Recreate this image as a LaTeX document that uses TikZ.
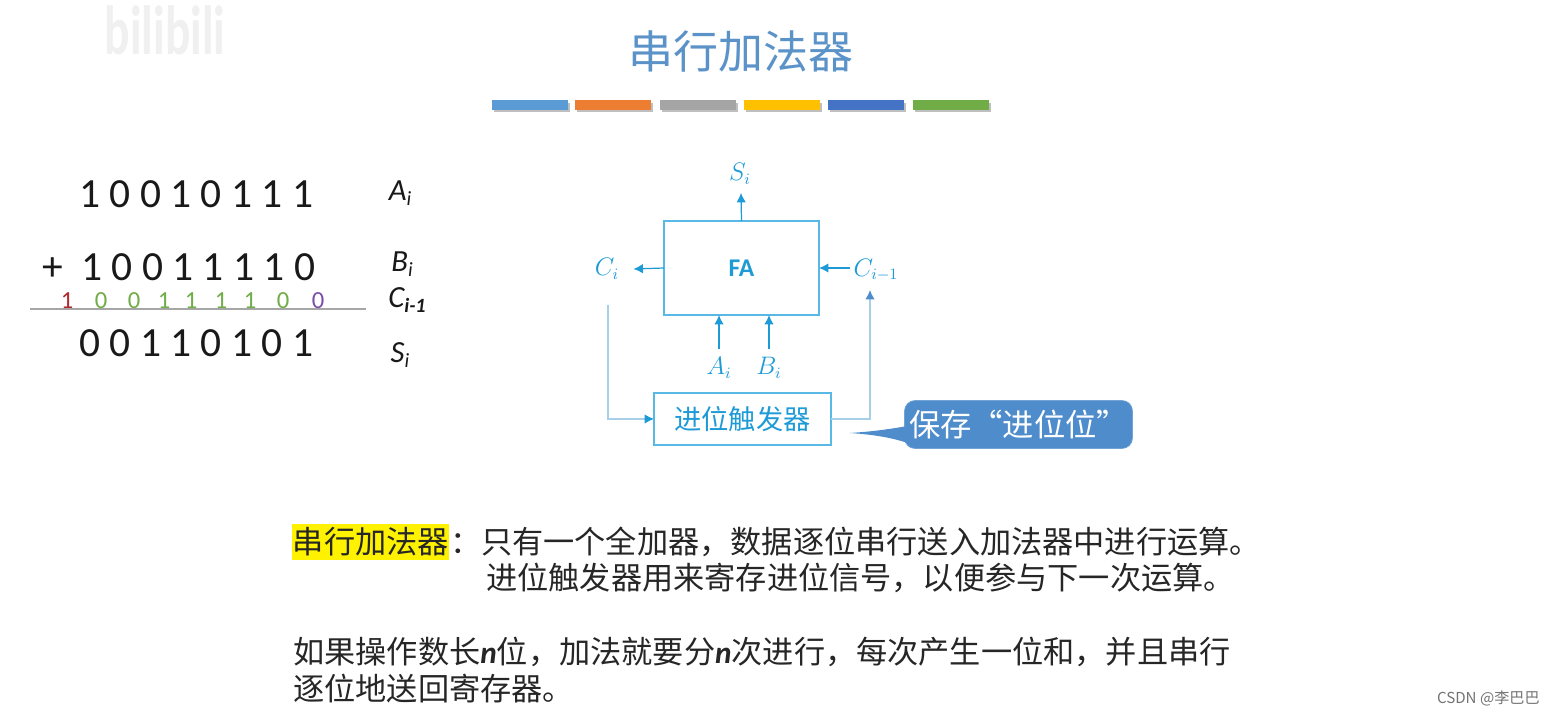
\documentclass[tikz,border=0pt]{standalone}
\usepackage{fontspec}
\setmainfont{Carlito}
\newfontfamily\cjk{Noto Sans CJK SC}
\usetikzlibrary{arrows.meta,positioning,calc}

\definecolor{titleblue}{HTML}{5B93C9}
\definecolor{wireblue}{HTML}{1E9BD7}
\definecolor{boxblue}{HTML}{58B9E4}
\definecolor{paleblue}{HTML}{A8CFE8}
\definecolor{calloutblue}{HTML}{4F8CCB}
\definecolor{carrygreen}{HTML}{70AD47}
\definecolor{carryred}{HTML}{B02A30}
\definecolor{carrypurple}{HTML}{7B4FA8}

\newcommand{\rowlab}[2]{{\itshape #1\lower 3pt\hbox{\fontsize{11.5}{11.5}\selectfont #2}}}

\begin{document}
\begin{tikzpicture}[
  x=0.02cm, y=-0.02cm,
  digits/.style={anchor=west, inner sep=0pt, font=\fontsize{23.6}{24}\selectfont, text=black!90},
  carry/.style={inner sep=0pt, font=\fontsize{14}{14}\selectfont, text=carrygreen},
  rowlabel/.style={inner sep=0pt, font=\fontsize{17.5}{17.5}\selectfont, text=black!90},
  bar/.style={minimum width=1.52cm, minimum height=0.19cm, inner sep=0pt},
  box/.style={draw=boxblue, line width=0.9pt, inner sep=0pt, outer sep=0pt, text=wireblue},
  sig/.style={inner sep=0pt, text=wireblue, font=\fontsize{13.5}{13.5}\selectfont},
  arr/.style={-{Latex[length=1.9mm, width=1.9mm]}, wireblue, line width=0.7pt},
  back/.style={-{Latex[length=1.9mm, width=1.9mm]}, paleblue, line width=0.7pt},
  para/.style={anchor=west, inner sep=0pt, font=\cjk\fontsize{17.75}{18}\selectfont, text=black!85}
]
\useasboundingbox (0,0) rectangle (1554,716);
\fill[white] (0,0) rectangle (1554,716);

% watermark and title
\node[inner sep=0pt, xscale=0.75, yscale=1.1, text=black!6, font=\bfseries\fontsize{36}{36}\selectfont] (mark) at (165,30) {bilibili};
\node[inner sep=0pt, text=titleblue, font=\cjk\fontsize{25.6}{26}\selectfont] (title) at (741,51) {串行加法器};

\node[bar, fill=black!25, xshift=0.04cm, yshift=-0.05cm] at (530,105) {};
\node[bar, fill=black!25, xshift=0.04cm, yshift=-0.05cm] at (613,105) {};
\node[bar, fill=black!25, xshift=0.04cm, yshift=-0.05cm] at (698,105) {};
\node[bar, fill=black!25, xshift=0.04cm, yshift=-0.05cm] at (782,105) {};
\node[bar, fill=black!25, xshift=0.04cm, yshift=-0.05cm] at (866,105) {};
\node[bar, fill=black!25, xshift=0.04cm, yshift=-0.05cm] at (951,105) {};
\node[bar, fill={rgb,255:red,91;green,155;blue,213}] (b1) at (530,105) {};
\node[bar, fill={rgb,255:red,237;green,125;blue,49}] (b2) at (613,105) {};
\node[bar, fill={rgb,255:red,165;green,165;blue,165}] (b3) at (698,105) {};
\node[bar, fill={rgb,255:red,255;green,192;blue,0}] (b4) at (782,105) {};
\node[bar, fill={rgb,255:red,68;green,114;blue,196}] (b5) at (866,105) {};
\node[bar, fill={rgb,255:red,112;green,173;blue,71}] (b6) at (951,105) {};

% addition on the left
\node[digits] (rowa) at (79,194) {1 0 0 1 0 1 1 1};
\node[digits] (rowb) at (42,267) {+\hspace{5.1pt} 1 0 0 1 1 1 1 0};
\node[digits] (rows) at (79,343) {0 0 1 1 0 1 0 1};

\node[carry, text=carryred] (c1) at (67,301) {1};
\node[carry] (c2) at (101,301) {0};
\node[carry] (c3) at (134,301) {0};
\node[carry] (c4) at (164,301) {1};
\node[carry] (c5) at (191,301) {1};
\node[carry] (c6) at (221,301) {1};
\node[carry] (c7) at (250,301) {1};
\node[carry] (c8) at (283,301) {0};
\node[carry, text=carrypurple] (c9) at (318,301) {0};

\coordinate (ruleL) at (30,309);
\coordinate (ruleR) at (366,309);
\draw[black!35, line width=1.5pt] (ruleL) -- (ruleR);

\node[rowlabel] (laba) at (400,193) {\rowlab{A}{i}};
\node[rowlabel] (labb) at (402,264) {\rowlab{B}{i}};
\node[rowlabel] (labc) at (407,300) {\rowlab{C}{\bfseries i-1}};
\node[rowlabel] (labs) at (400,355) {\rowlab{S}{i}};

% adder with carry flip-flop
\node[box, minimum width=3.1cm, minimum height=1.88cm, font=\bfseries\fontsize{14.5}{14.5}\selectfont] (fa) at (741.5,268) {FA};
\node[box, below=1.56cm of fa, xshift=0.02cm, minimum width=3.54cm, minimum height=1.04cm, font=\cjk\fontsize{15.5}{16}\selectfont] (ff) {进位触发器};

\node[sig] (si) at (740,174) {$S_i$};
\node[sig] (ci) at (607,269) {$C_i$};
\node[sig] (cim) at (876,270) {$C_{i-1}$};
\node[sig] (ai) at (719,368) {$A_i$};
\node[sig] (bi) at (769,368) {$B_i$};
\coordinate (backL) at (608,305);
\coordinate (backR) at (870,290);

\draw[arr] (fa.north) -- ($(si.south)+(1,8)$);
\draw[arr] (fa.west) -- ($(ci.east)+(14,0)$);
\draw[arr] ($(cim.west)+(-3,-2)$) -- (fa.east |- 0,268);
\draw[arr] ($(ai.north)+(0,-8)$) -- (ai |- fa.south);
\draw[arr] ($(bi.north)+(0,-8)$) -- (bi |- fa.south);
\draw[back, arrows={-{Latex[length=1.9mm, width=1.9mm, color=wireblue]}}] (backL) |- (ff.west);
\draw[back, arrows={-{Latex[length=1.9mm, width=1.9mm, color=calloutblue]}}] (ff.east) -| (backR);

% callout
\node[fill=calloutblue, draw=calloutblue!80, rounded corners=6pt, text=white, inner sep=0pt,
  minimum width=4.56cm, minimum height=0.96cm, font=\cjk\fontsize{17.8}{18}\selectfont] (note) at (1018.5,424.5) {保存“进位位”};
\coordinate (tip) at (850,433);
\fill[calloutblue] (tip) .. controls (880,431) and (895,428) .. (908,426) -- (908,443) .. controls (895,439) and (880,435) .. (tip) -- cycle;

% text below
\node[para, fill=yellow, minimum width=3.14cm, minimum height=0.72cm, inner sep=0pt] (hl) at (292,542) {串行加法器};
\node[para, right=0pt of hl] (line1) {：只有一个全加器，数据逐位串行送入加法器中进行运算。};
\node[para] (line2) at (486,578) {进位触发器用来寄存进位信号，以便参与下一次运算。};
\node[para] (line3) at (293,652) {如果操作数长{\rmfamily\bfseries\itshape n}位，加法就要分{\rmfamily\bfseries\itshape n}次进行，每次产生一位和，并且串行};
\node[para] (line4) at (293,689) {逐位地送回寄存器。};

\node[anchor=east, inner sep=0pt, text=black!55, font=\cjk\fontsize{8.6}{9}\selectfont] (csdn) at (1540,698) {CSDN @李巴巴};

\end{tikzpicture}
\end{document}
